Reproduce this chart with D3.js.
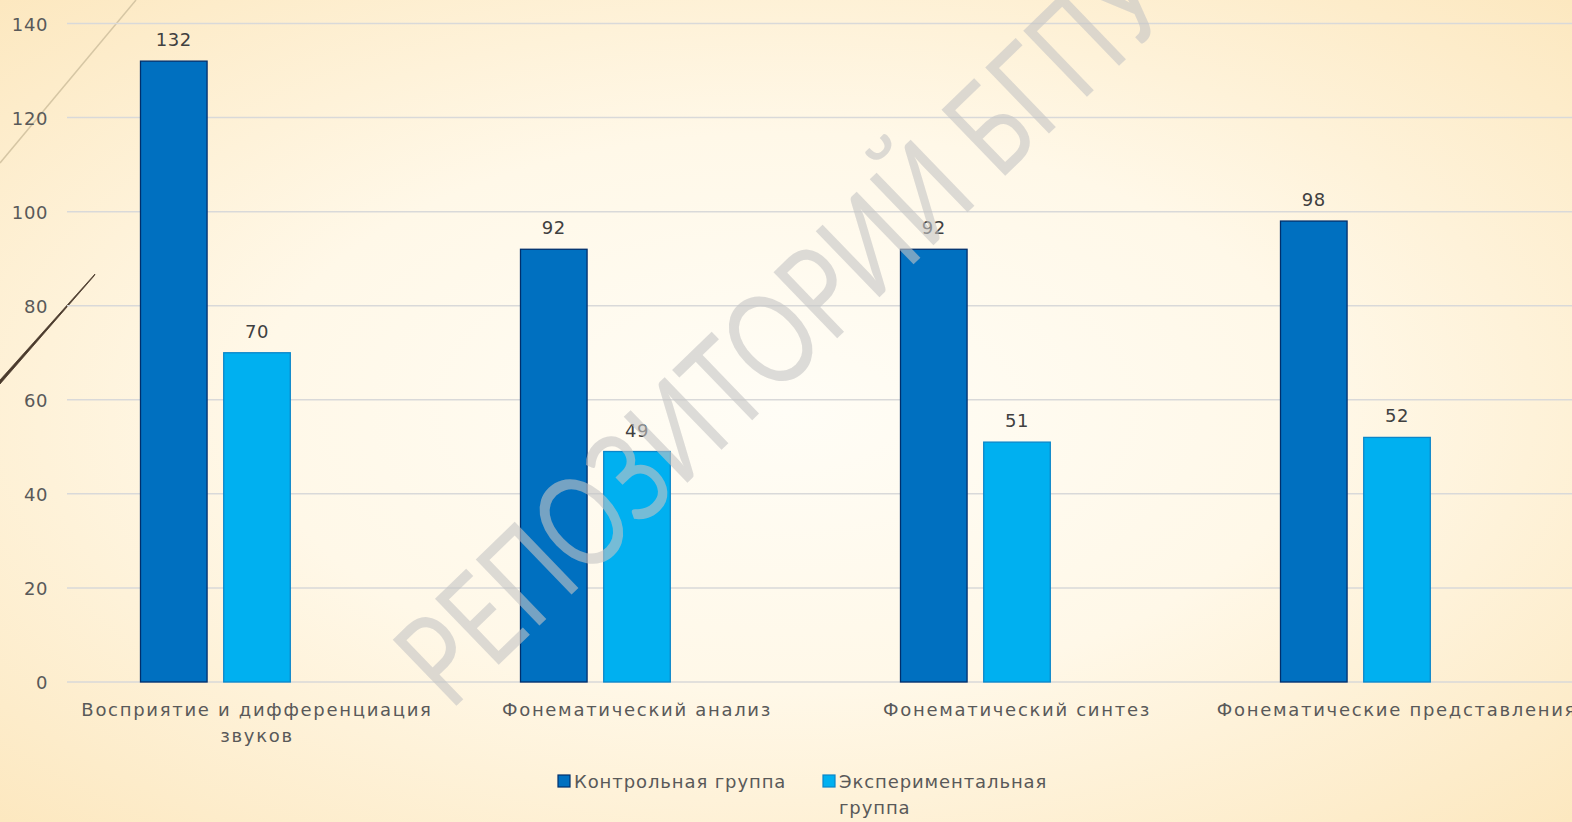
<!DOCTYPE html>
<html>
<head>
<meta charset="utf-8">
<script src="https://cdn.jsdelivr.net/npm/d3@7"></script>
<style>
  html, body { margin: 0; padding: 0; overflow: hidden; }
  svg { display: block; }
  .lbl { font-family: "DejaVu Sans", sans-serif; fill: #595959; letter-spacing: 0.6px; }
  .cat { letter-spacing: 1.7px; }
  .leg { letter-spacing: 0.9px; }
</style>
</head>
<body>
<div id="chart"></div>
<script>
// chart data
var categories = [
    ["Восприятие и дифференциация", "звуков"],
    ["Фонематический анализ"],
    ["Фонематический синтез"],
    ["Фонематические представления"]
];
var seriesNames = ["Контрольная группа", "Экспериментальная группа"];
var controlValues = [132, 92, 92, 98];
var experimentValues = [70, 49, 51, 52];
var yTicks = [0, 20, 40, 60, 80, 100, 120, 140];

var W = 1572, H = 822,
    margin = { top: 23.5, left: 67, bottom: 140 },
    bandStep = 380,
    fs = 18,
    colors = ["#0070c0", "#00b0f0"],
    strokes = ["#002f6c", "#0b86c9"];

var svg = d3.select("#chart").append("svg")
    .attr("width", W)
    .attr("height", H);

// background
var defs = svg.append("defs");
var grad = defs.append("radialGradient")
    .attr("id", "bg")
    .attr("cx", "50%").attr("cy", "50%").attr("r", "75%");
grad.append("stop").attr("offset", "0%").attr("stop-color", "#fffdf6");
grad.append("stop").attr("offset", "45%").attr("stop-color", "#fff8e8");
grad.append("stop").attr("offset", "100%").attr("stop-color", "#fce6bb");
svg.append("rect").attr("width", W).attr("height", H).attr("fill", "url(#bg)");

// decorative strokes at the left edge
svg.append("line")
    .attr("x1", 0).attr("y1", 163).attr("x2", 136).attr("y2", 0)
    .attr("stroke", "#d6c6a4").attr("stroke-width", 1.5);
svg.append("path")
    .attr("d", "M0,380 L95,274 L94,276 L0,384 Z")
    .attr("fill", "#4a3a2c")
    .attr("stroke", "#4a3a2c").attr("stroke-width", 0.8);

var y = d3.scaleLinear()
    .domain([0, 140])
    .range([682, margin.top]);

var x0 = d3.scaleBand()
    .domain(d3.range(categories.length))
    .range([margin.left, margin.left + bandStep * categories.length])
    .padding(0);

var x1 = d3.scaleBand()
    .domain([0, 1, 2])
    .range([73.5, bandStep - 73.5])
    .paddingInner(0.2)
    .paddingOuter(0);

// gridlines
svg.append("g").selectAll("line")
    .data(yTicks)
    .enter().append("line")
    .attr("x1", margin.left)
    .attr("x2", W)
    .attr("y1", function (d) { return y(d); })
    .attr("y2", function (d) { return y(d); })
    .attr("stroke", "#d9d9d9")
    .attr("stroke-width", 1.5);

// y labels
svg.append("g").selectAll("text")
    .data(yTicks)
    .enter().append("text")
    .attr("class", "lbl")
    .attr("x", 48)
    .attr("y", function (d) { return y(d) + 7; })
    .attr("text-anchor", "end")
    .attr("font-size", fs)
    .text(function (d) { return d; });

var series = [controlValues, experimentValues];

series.forEach(function (vals, s) {
    var g = svg.append("g");
    g.selectAll("rect")
        .data(vals)
        .enter().append("rect")
        .attr("x", function (d, i) { return x0(i) + x1(s); })
        .attr("y", function (d) { return y(d); })
        .attr("width", x1.bandwidth())
        .attr("height", function (d) { return y(0) - y(d); })
        .attr("fill", colors[s])
        .attr("stroke", strokes[s])
        .attr("stroke-width", 1.3);
    g.selectAll("text")
        .data(vals)
        .enter().append("text")
        .attr("class", "lbl")
        .style("fill", "#404040")
        .attr("x", function (d, i) { return x0(i) + x1(s) + x1.bandwidth() / 2; })
        .attr("y", function (d) { return y(d) - 15; })
        .attr("text-anchor", "middle")
        .attr("font-size", fs)
        .text(function (d) { return d; });
});

// category labels
var catText = svg.append("g").selectAll("text")
    .data(categories)
    .enter().append("text")
    .attr("class", "lbl cat")
    .attr("text-anchor", "middle")
    .attr("font-size", fs)
    .attr("x", function (d, i) { return x0(i) + bandStep / 2; })
    .attr("y", 716);
catText.selectAll("tspan")
    .data(function (d) { return d; })
    .enter().append("tspan")
    .attr("x", function () { return d3.select(this.parentNode).attr("x"); })
    .attr("dy", function (d, i) { return i ? 26 : 0; })
    .text(function (d) { return d; });

// legend
var legendX = [558, 823];
var legendLines = [["Контрольная группа"], ["Экспериментальная", "группа"]];
var legend = svg.append("g").selectAll("g")
    .data(seriesNames)
    .enter().append("g");
legend.append("rect")
    .attr("x", function (d, i) { return legendX[i]; })
    .attr("y", 775)
    .attr("width", 12).attr("height", 12)
    .attr("fill", function (d, i) { return colors[i]; })
    .attr("stroke", function (d, i) { return strokes[i]; })
    .attr("stroke-width", 1.2);
var legText = legend.append("text")
    .attr("class", "lbl leg")
    .attr("font-size", fs)
    .attr("x", function (d, i) { return legendX[i] + 16; })
    .attr("y", 788);
legText.selectAll("tspan")
    .data(function (d, i) { return legendLines[i]; })
    .enter().append("tspan")
    .attr("x", function () { return d3.select(this.parentNode).attr("x"); })
    .attr("dy", function (d, i) { return i ? 26 : 0; })
    .text(function (d) { return d; });

// watermark
svg.append("text")
    .attr("transform", "translate(450,712) rotate(-44)")
    .attr("font-family", "Lato, 'Noto Sans', sans-serif")
    .attr("font-weight", 400)
    .attr("font-size", 128)
    .attr("textLength", 1010)
    .attr("lengthAdjust", "spacingAndGlyphs")
    .attr("fill", "#c4c4c4")
    .attr("fill-opacity", 0.6)
    .text("РЕПОЗИТОРИЙ БГПУ");
</script>
</body>
</html>
